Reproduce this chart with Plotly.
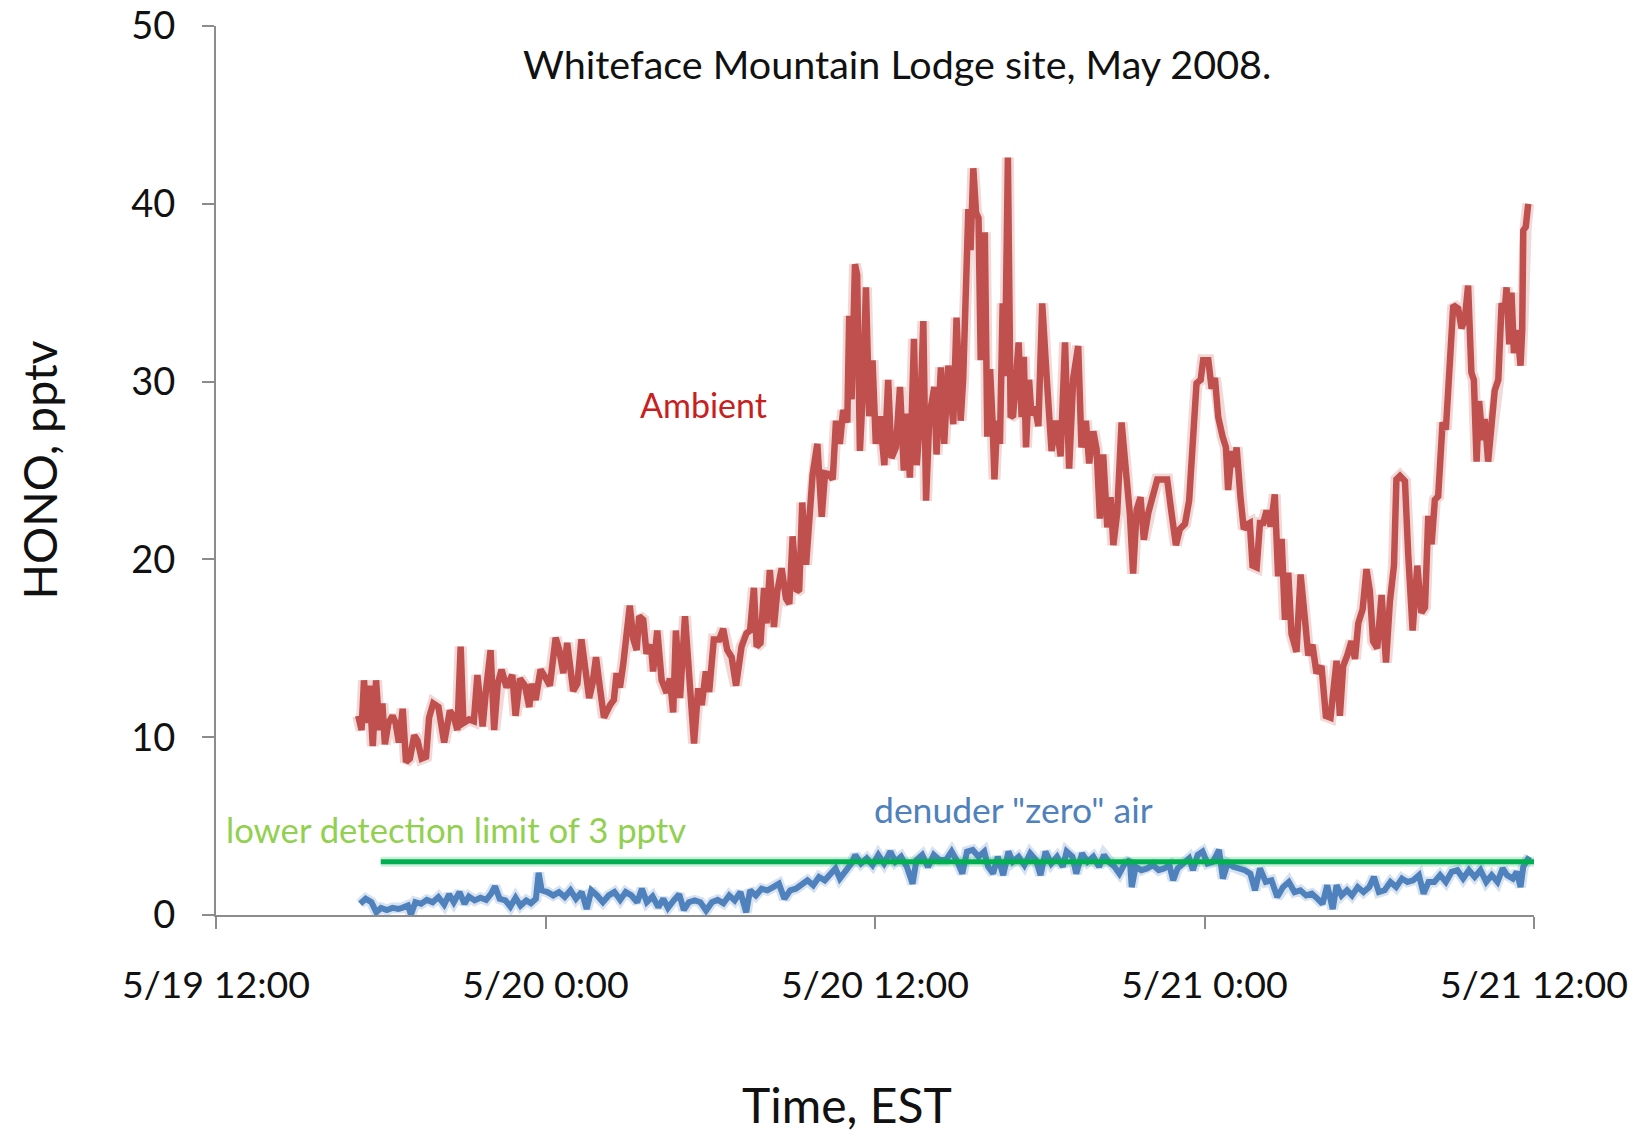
import pandas as pd
import plotly.graph_objects as go

# hours since 5/19/2008 12:00 EST
red_hours = [5.18, 5.30, 5.39, 5.49, 5.58, 5.71, 5.83, 5.95, 6.06, 6.15, 6.28, 6.43, 6.54, 6.66, 6.80, 6.92,
             7.06, 7.22, 7.34, 7.49, 7.65, 7.76, 7.91, 8.10, 8.31, 8.52, 8.67, 8.79, 8.91, 9.01, 9.22, 9.39,
             9.52, 9.71, 9.83, 10.00, 10.13, 10.26, 10.40, 10.58, 10.79, 10.91, 11.07, 11.25, 11.41, 11.49,
             11.64, 11.82, 11.98, 12.16, 12.37, 12.50, 12.65, 12.79, 13.01, 13.16, 13.31, 13.46, 13.59, 13.71,
             13.84, 13.98, 14.13, 14.35, 14.49, 14.59, 14.71, 14.83, 14.93, 15.07, 15.20, 15.32, 15.41, 15.56,
             15.68, 15.84, 15.92, 16.07, 16.23, 16.41,
             16.53, 16.65, 16.75, 16.90, 17.08, 17.24, 17.41, 17.56, 17.69, 17.84, 17.96, 18.13, 18.33, 18.47,
             18.62, 18.78, 18.94, 19.14, 19.32, 19.45, 19.59, 19.69, 19.83, 19.96, 20.05, 20.17, 20.32, 20.44,
             20.60, 20.76, 20.88, 21.00, 21.15, 21.24, 21.35, 21.49, 21.61, 21.73, 21.90, 22.06, 22.18, 22.33,
             22.46, 22.58, 22.72, 22.84, 22.99, 23.06, 23.15, 23.27, 23.35, 23.45, 23.57, 23.67, 23.79, 23.91,
             24.03, 24.18, 24.34, 24.48, 24.60, 24.76, 24.91, 25.05, 25.15, 25.27, 25.42, 25.52, 25.64, 25.76,
             25.86, 25.98, 26.16, 26.24, 26.40, 26.52, 26.67, 26.85,
             26.97, 27.12, 27.21, 27.31, 27.40, 27.48, 27.58, 27.68, 27.77, 27.85, 27.92, 28.00, 28.09, 28.19,
             28.28, 28.35, 28.45, 28.55, 28.65, 28.73, 28.84, 28.94, 29.03, 29.13, 29.23, 29.34, 29.42, 29.50,
             29.61, 29.70, 29.82, 29.95, 30.09, 30.25, 30.43, 30.59, 30.76, 30.92, 31.07, 31.22, 31.40, 31.52,
             31.68, 31.80, 31.95, 32.07, 32.19, 32.31, 32.46, 32.58, 32.68, 32.82, 32.98, 33.16, 33.28, 33.40,
             33.53, 33.67, 33.79, 33.95, 34.11, 34.28, 34.50, 34.64, 34.80, 34.96, 35.10, 35.29, 35.44, 35.59,
             35.71, 35.86, 35.95, 36.14, 36.26, 36.38, 36.50, 36.66, 36.78, 36.86, 36.99, 37.07, 37.17, 37.31,
             37.43, 37.59,
             37.65, 37.75, 37.90, 38.02, 38.14, 38.26, 38.41, 38.56, 38.68, 38.81, 38.93, 39.05, 39.17, 39.35,
             39.50, 39.66, 39.78, 39.93, 40.08, 40.26, 40.42, 40.59, 40.71, 40.81, 40.93, 41.05, 41.20, 41.35,
             41.48, 41.60, 41.76, 41.90, 42.02, 42.14, 42.29, 42.45, 42.61, 42.75, 42.90, 42.99, 43.12, 43.30,
             43.42, 43.58, 43.75, 43.90, 44.03, 44.15, 44.27, 44.39, 44.51, 44.67, 44.79, 44.91, 45.06, 45.24,
             45.36, 45.48, 45.60, 45.72, 45.81, 45.91, 46.00, 46.13, 46.21, 46.33, 46.45, 46.57, 46.70, 46.82,
             46.94, 47.00, 47.10, 47.18, 47.27, 47.39, 47.51, 47.57, 47.61, 47.70, 47.79]
red_hono = [11.2, 10.4, 13.2, 10.8, 12.9, 9.5, 13.2, 10.4, 11.9, 9.6, 10.8, 11.2, 10.8, 9.7, 11.6, 8.6,
            8.8, 10.1, 9.8, 8.8, 8.9, 11.1, 11.9, 11.7, 9.7, 11.5, 11.1, 10.4, 15.1, 10.8, 11.0, 10.9,
            13.5, 10.6, 12.6, 14.9, 10.4, 13.0, 13.8, 12.8, 13.5, 11.2, 13.3, 12.9, 11.7, 13.0,
            12.1, 13.8, 13.4, 12.9, 15.6, 14.9, 13.6, 15.3, 12.6, 13.0, 15.5, 13.8, 12.2, 13.0,
            14.5, 12.8, 11.1, 11.8, 12.1, 13.6, 12.8, 14.1, 15.9, 17.4, 15.5, 14.9, 16.8, 16.6,
            14.7, 15.2, 13.7, 16.0, 13.2, 12.5,
            13.3, 11.4, 16.0, 12.2, 16.8, 13.1, 9.65, 12.75, 11.8, 13.7, 12.55, 15.5, 15.5, 16.1,
            14.9, 14.5, 12.9, 15.1, 15.85, 16.0, 18.4, 15.1, 15.3, 18.4, 16.4, 19.4, 16.2, 18.2,
            19.5, 17.8, 17.5, 21.3, 18.2, 18.3, 23.2, 19.7, 22.05, 24.8, 26.5, 22.4, 24.85, 24.8,
            24.5, 27.8, 26.5, 28.4, 27.7, 33.7, 29.0, 36.6, 36.0, 26.1, 29.8, 35.3, 28.05, 31.2,
            26.5, 28.05, 25.3, 30.1, 25.7, 26.3, 29.7, 25.0, 28.2, 24.6, 32.4, 25.3, 27.9, 33.4,
            23.3, 28.05, 29.7, 25.9, 30.8, 26.5, 30.9, 27.6,
            33.6, 27.8, 30.1, 35.7, 39.7, 37.4, 42.0, 39.5, 39.2, 31.2, 34.8, 38.4, 26.9, 30.7,
            27.8, 24.5, 27.8, 26.5, 34.4, 30.3, 42.6, 28.0, 28.1, 29.9, 32.2, 28.0, 31.4, 26.3,
            30.1, 28.1, 28.6, 27.5, 34.4, 30.3, 26.1, 27.8, 25.8, 32.2, 25.1, 30.2, 32.0, 26.3,
            27.8, 25.4, 27.2, 26.2, 22.3, 25.9, 21.8, 23.5, 20.8, 22.6, 27.7, 24.6, 22.6, 19.2,
            22.8, 23.5, 21.1, 22.6, 23.4, 24.5, 24.5, 24.5, 22.6, 20.8, 21.7, 22.0, 23.3, 26.9,
            29.9, 30.1, 31.2, 31.2, 29.6, 30.2, 28.0, 26.9, 26.3, 23.9, 26.1, 25.2, 26.3, 23.5,
            21.7, 22.0,
            22.05, 19.65, 19.55, 22.05, 22.05, 22.75, 21.85, 23.65, 19.05, 21.15, 16.6, 19.25, 15.8, 14.8,
            19.15, 16.6, 14.6, 15.2, 13.6, 14.0, 11.2, 11.1, 12.6, 14.3, 11.2, 14.0, 14.6, 15.4,
            14.4, 16.4, 17.2, 19.45, 18.25, 15.4, 15.0, 18.0, 14.2, 17.6, 19.65, 24.5, 24.7, 24.4,
            20.25, 16.0, 19.65, 17.0, 17.3, 22.45, 20.85, 23.35, 23.55, 27.7, 27.3, 30.7, 34.3, 34.1,
            33.0, 33.5, 35.4, 30.5, 30.1, 25.5, 28.9, 26.7, 27.9, 25.5, 27.3, 29.5, 30.1, 34.4,
            34.1, 35.3, 32.1, 35.0, 31.6, 32.9, 30.9, 32.9, 38.5, 38.7, 40.0]

blue_hours = [5.25, 5.45, 5.66, 5.84, 6.01, 6.22, 6.43, 6.64, 6.78, 6.99, 7.10, 7.26, 7.47, 7.68, 7.89, 8.10,
              8.31, 8.49, 8.66, 8.87, 9.05, 9.21, 9.42, 9.63, 9.84, 10.02, 10.16, 10.33, 10.54, 10.72, 10.91,
              11.09, 11.30, 11.47, 11.65, 11.75, 11.86, 12.07, 12.28, 12.49, 12.70, 12.91, 13.11, 13.32, 13.50,
              13.67, 13.88, 14.09, 14.30, 14.51, 14.72, 14.92, 15.13, 15.34, 15.51, 15.69, 15.90, 16.11, 16.29,
              16.46, 16.67, 16.87, 17.04, 17.22, 17.43, 17.64, 17.85, 18.06, 18.27, 18.48, 18.69, 18.89, 19.10,
              19.31, 19.45, 19.66, 19.87, 20.08, 20.29, 20.50, 20.70, 20.91, 21.12, 21.33, 21.54, 21.75, 21.96,
              22.17, 22.38, 22.56, 22.72, 22.93, 23.14, 23.28, 23.49, 23.70, 23.91, 24.12, 24.33, 24.56, 24.74,
              24.95, 25.16, 25.37, 25.51, 25.72, 25.93, 26.14, 26.35,
              26.58, 26.79, 27.00, 27.18, 27.35, 27.56, 27.77, 27.98, 28.12, 28.30, 28.47, 28.67, 28.86, 29.02,
              29.23, 29.44, 29.65, 29.86, 30.03, 30.21, 30.42, 30.63, 30.84, 30.98, 31.19, 31.33, 31.54, 31.74,
              31.95, 32.16, 32.34, 32.51, 32.72, 32.90, 33.10, 33.28, 33.35, 33.49, 33.70, 33.91, 34.12, 34.33,
              34.53, 34.72, 34.86, 35.02, 35.23, 35.44, 35.58, 35.75, 35.93, 36.11, 36.31, 36.53, 36.67, 36.84,
              37.05, 37.26, 37.47, 37.67, 37.84, 38.02, 38.23, 38.44, 38.65, 38.86, 39.07, 39.28, 39.49, 39.70,
              39.91, 40.12, 40.30, 40.47, 40.67, 40.81, 40.99, 41.19, 41.37, 41.58, 41.79, 42.00, 42.17, 42.35,
              42.56, 42.77, 42.98, 43.19, 43.39, 43.60, 43.81, 43.98, 44.16, 44.37, 44.58, 44.79, 45.00, 45.21,
              45.42, 45.63, 45.84, 46.05, 46.26, 46.46, 46.67, 46.86, 47.02, 47.23, 47.37, 47.51, 47.61, 47.75,
              47.83]
blue_hono = [0.63, 0.91, 0.72, 0.15, 0.40, 0.28, 0.40, 0.34, 0.40, 0.53, 0.02, 0.72, 0.63, 0.85, 0.72, 1.01,
             0.59, 1.16, 0.72, 1.29, 0.63, 1.04, 0.82, 0.97, 0.85, 1.20, 1.61, 0.91, 0.82, 0.47, 0.97,
             0.53, 0.82, 0.66, 0.91, 2.37, 1.39, 1.29, 1.10, 1.29, 1.01, 1.39, 0.91, 1.29, 0.34,
             1.39, 1.10, 0.72, 1.10, 1.29, 0.85, 1.29, 1.10, 0.72, 1.48, 0.72, 1.04, 0.44, 0.91,
             0.40, 0.82, 1.16, 0.28, 0.72, 0.82, 0.72, 0.25, 0.72, 0.85, 0.66, 1.10, 0.82, 1.29,
             0.15, 1.39, 1.10, 1.48, 1.39, 1.57, 1.76, 0.91, 1.39, 1.48, 1.67, 1.95, 1.67, 2.14,
             1.95, 2.33, 2.62, 2.05, 2.43, 2.90, 3.38, 2.90, 3.19, 2.81, 3.38, 2.90, 3.57, 3.00,
             3.28, 2.71, 1.76, 3.09, 3.38, 2.71, 3.38, 3.09,
             3.09, 3.57, 3.00, 2.33, 3.57, 3.66, 3.28, 3.57, 2.71, 2.33, 3.28, 2.24, 3.57, 3.00,
             3.28, 2.81, 3.47, 3.09, 2.24, 3.57, 2.90, 3.28, 2.71, 3.57, 3.28, 2.33, 3.47, 3.00,
             3.28, 2.71, 3.38, 3.00, 2.71, 2.33, 2.90, 3.09, 1.57, 2.71, 2.52, 2.62, 2.81, 2.52,
             2.62, 2.81, 1.95, 2.62, 2.90, 3.19, 2.52, 3.38, 3.57, 2.90, 3.00, 3.66, 2.05, 2.90,
             2.71, 2.62, 2.52, 2.33, 1.39, 2.62, 1.86, 1.95, 1.01, 1.57, 1.86, 1.29, 1.39, 1.10,
             1.20, 0.91, 0.63, 1.67, 0.34, 1.67, 1.10, 1.39, 1.10, 1.57, 1.29, 1.57, 2.14, 1.29,
             1.39, 1.86, 1.57, 2.05, 1.86, 1.95, 2.24, 1.20, 1.86, 1.86, 2.24, 1.86, 2.43, 2.52,
             2.05, 2.52, 2.14, 2.52, 1.86, 2.24, 1.86, 2.62, 2.24, 2.05, 2.43, 1.57, 2.71, 3.09,
             3.28]

limit_times = ["2008-05-19 18:00", "2008-05-21 12:00"]
limit_value = [3, 3]

tick_times = ["2008-05-19 12:00", "2008-05-20 00:00", "2008-05-20 12:00", "2008-05-21 00:00", "2008-05-21 12:00"]
tick_labels = ["5/19 12:00", "5/20 0:00", "5/20 12:00", "5/21 0:00", "5/21 12:00"]

start = pd.Timestamp("2008-05-19 12:00")
red_t = start + pd.to_timedelta(red_hours, unit="h")
blue_t = start + pd.to_timedelta(blue_hours, unit="h")

RED = "#C0504D"
BLUE = "#4F81BD"
GREEN = "#00B050"
FONT = "Lato"

fig = go.Figure()
# soft halo under each line (Excel glow look)
fig.add_scatter(x=red_t, y=red_hono, mode="lines", line=dict(color="rgba(192,80,77,0.22)", width=12),
                hoverinfo="skip", showlegend=False)
fig.add_scatter(x=red_t, y=red_hono, mode="lines", line=dict(color=RED, width=6.5), name="Ambient",
                showlegend=False)
fig.add_scatter(x=blue_t, y=blue_hono, mode="lines", line=dict(color="rgba(79,129,189,0.22)", width=11),
                hoverinfo="skip", showlegend=False)
fig.add_scatter(x=blue_t, y=blue_hono, mode="lines", line=dict(color=BLUE, width=6), name="zero air",
                showlegend=False)
fig.add_scatter(x=limit_times, y=limit_value, mode="lines", line=dict(color="rgba(0,176,80,0.2)", width=10),
                hoverinfo="skip", showlegend=False)
fig.add_scatter(x=limit_times, y=limit_value, mode="lines", line=dict(color=GREEN, width=5), name="LDL",
                showlegend=False)

fig.update_xaxes(range=[tick_times[0], tick_times[-1]], tickvals=tick_times, ticktext=tick_labels,
                 showline=True, linecolor="#8c8c8c", linewidth=2, showgrid=False, zeroline=False,
                 ticks="outside", ticklen=12, tickwidth=2, tickcolor="#8c8c8c", ticklabelstandoff=24,
                 automargin=False, ticklabeloverflow="allow",
                 tickfont=dict(family=FONT, size=37.5, color="#111"))
fig.update_yaxes(range=[0, 50], dtick=10, showline=True, linecolor="#8c8c8c", linewidth=2,
                 showgrid=False, zeroline=False, ticks="outside", ticklen=12, tickwidth=2,
                 tickcolor="#8c8c8c", ticklabelstandoff=19, automargin=False, ticklabeloverflow="allow",
                 tickfont=dict(family=FONT, size=38, color="#111"))

annots = [
    dict(text="Whiteface Mountain Lodge site, May 2008.", xref="paper", yref="paper", x=0.517, y=0.958,
         font=dict(size=39.5, color="#111")),
    dict(text="HONO, pptv", xref="paper", yref="paper", x=-0.135, y=0.5, textangle=-90,
         font=dict(size=46.5, color="#111")),
    dict(text="Time, EST", xref="paper", yref="paper", x=0.479, y=-0.2137,
         font=dict(size=48, color="#111")),
    dict(text="Ambient", xref="x", yref="y", x=start + pd.Timedelta(hours=17.75), y=28.7,
         font=dict(size=34, color="#C8201E")),
    dict(text='denuder "zero" air', xref="x", yref="y", x=start + pd.Timedelta(hours=29.03), y=5.93,
         font=dict(size=35.5, color=BLUE)),
    dict(text="lower detection limit of 3 pptv", xref="x", yref="y", x=start + pd.Timedelta(hours=8.73),
         y=4.82, font=dict(size=34.7, color="#92D050")),
]
for a in annots:
    a["font"]["family"] = FONT
    fig.add_annotation(showarrow=False, xanchor="center", yanchor="middle", **a)

fig.update_layout(width=1642, height=1137, margin=dict(l=216, r=108, t=26, b=222),
                  plot_bgcolor="white", paper_bgcolor="white")

# drop the default body margin so the figure sits flush in the window
fig.write_html("out.html", config={"displayModeBar": False},
               post_script="document.body.style.margin='0';")
